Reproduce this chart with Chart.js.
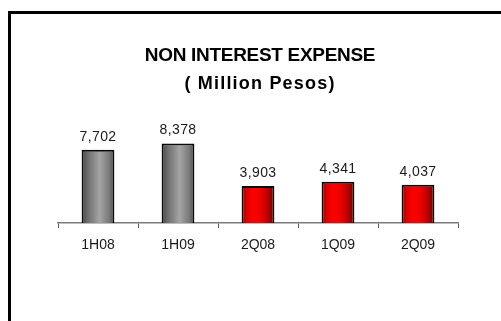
<!DOCTYPE html>
<html>
<head>
<meta charset="utf-8">
<script src="https://cdn.jsdelivr.net/npm/chart.js@4/dist/chart.umd.min.js"></script>
<style>
  html, body { margin: 0; padding: 0; background: #ffffff; }
  canvas { display: block; }
</style>
</head>
<body>
<canvas id="chart" width="501" height="321"></canvas>
<script>
// Non interest expense by period (million pesos)
const periods = ['1H08', '1H09', '2Q08', '1Q09', '2Q09'];
const expense = [7702, 8378, 3903, 4341, 4037];
const titleLine1 = 'NON INTEREST EXPENSE';
const titleLine2 = '( Million Pesos)';

const FONT = '"Liberation Sans", Arial, sans-serif';
const BAR_PCT = 0.41;

// Cylinder-style horizontal shading: grey for half-years, red for quarters
function barFill(ctx) {
  const chart = ctx.chart;
  const area = chart.chartArea;
  const isHalf = periods[ctx.dataIndex].includes('H');
  if (!area) return isHalf ? '#8c8c8c' : '#e00000';
  const cx = chart.scales.x.getPixelForValue(ctx.dataIndex);
  const w = (area.width / periods.length) * BAR_PCT;
  const g = chart.ctx.createLinearGradient(cx - w / 2, 0, cx + w / 2, 0);
  if (isHalf) {
    g.addColorStop(0, '#454545');
    g.addColorStop(0.18, '#6c6c6c');
    g.addColorStop(0.55, '#a4a4a4');
    g.addColorStop(0.85, '#787878');
    g.addColorStop(1, '#4a4a4a');
  } else {
    g.addColorStop(0, '#9a0000');
    g.addColorStop(0.15, '#dc0000');
    g.addColorStop(0.38, '#ff0000');
    g.addColorStop(0.6, '#ea0000');
    g.addColorStop(0.85, '#a80000');
    g.addColorStop(1, '#6a0000');
  }
  return g;
}

// Outer frame and the two-line heading
const framePlugin = {
  id: 'frameAndHeading',
  beforeDraw(chart) {
    const c = chart.ctx;
    c.save();
    c.fillStyle = '#ffffff';
    c.fillRect(0, 0, chart.width, chart.height);
    c.strokeStyle = '#000000';
    c.lineWidth = 3;
    c.strokeRect(9.5, 12.5, chart.width + 20, chart.height + 20);
    c.restore();
  },
  afterDraw(chart) {
    const c = chart.ctx;
    const cx = 260;
    c.save();
    c.fillStyle = '#000000';
    c.textAlign = 'center';
    c.textBaseline = 'middle';
    c.font = 'bold 19px ' + FONT;
    c.letterSpacing = '-0.3px';
    c.fillText(titleLine1, cx, 56);
    c.font = 'bold 18px ' + FONT;
    c.letterSpacing = '1.2px';
    c.fillText(titleLine2, cx, 84);
    c.restore();
  }
};

// Value labels above each bar
const valueLabels = {
  id: 'valueLabels',
  afterDatasetsDraw(chart) {
    const c = chart.ctx;
    const meta = chart.getDatasetMeta(0);
    c.save();
    c.fillStyle = '#1a1a1a';
    c.font = '14px ' + FONT;
    c.letterSpacing = '0.4px';
    c.textAlign = 'center';
    c.textBaseline = 'middle';
    meta.data.forEach((bar, i) => {
      const v = chart.data.datasets[0].data[i];
      c.fillText(v.toLocaleString('en-US'), bar.x, bar.y - 13);
    });
    c.restore();
  }
};

new Chart(document.getElementById('chart'), {
  type: 'bar',
  data: {
    labels: periods,
    datasets: [{
      data: expense,
      backgroundColor: barFill,
      borderColor: '#0a0a0a',
      borderWidth: 2,
      borderSkipped: 'bottom',
      barPercentage: BAR_PCT,
      categoryPercentage: 1
    }]
  },
  options: {
    responsive: false,
    devicePixelRatio: 1,
    animation: false,
    layout: { padding: { left: 58, right: 43, top: 128, bottom: 68 } },
    plugins: {
      legend: { display: false },
      title: { display: false },
      tooltip: { enabled: false }
    },
    scales: {
      x: {
        offset: true,
        grid: {
          offset: true,
          drawOnChartArea: false,
          drawTicks: true,
          tickLength: 5,
          color: '#555555',
          lineWidth: 1
        },
        border: { display: true, color: '#7a7a7a', width: 1.5 },
        ticks: {
          color: '#1a1a1a',
          font: { family: FONT, size: 14 },
          padding: 9,
          maxRotation: 0
        },
        afterFit(scale) { scale.height = 30; }
      },
      y: {
        display: false,
        min: 0,
        max: 10000
      }
    }
  },
  plugins: [framePlugin, valueLabels]
});
</script>
</body>
</html>
